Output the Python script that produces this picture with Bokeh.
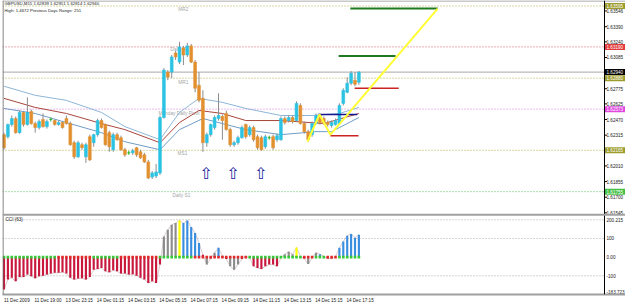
from bokeh.plotting import figure
from bokeh.models import Range1d, FixedTicker, Span
from bokeh.core.properties import value
from bokeh.embed import file_html
from bokeh.resources import INLINE

# ---------------- data ----------------
opens = [1.6232, 1.6230, 1.6242, 1.6248, 1.6234, 1.6254, 1.6242, 1.6255, 1.6243, 1.6239,
         1.6247, 1.6240, 1.6247, 1.6246, 1.6242, 1.6244, 1.6248, 1.6243, 1.6224, 1.6210,
         1.6222, 1.6210, 1.6230, 1.6224, 1.6232, 1.6246, 1.6242, 1.6234, 1.6217, 1.6232,
         1.6229, 1.6217, 1.6214, 1.6214, 1.6219, 1.6215, 1.6212, 1.6205, 1.6190, 1.6191,
         1.6194, 1.6249, 1.6294, 1.6294, 1.6313, 1.6304, 1.6318, 1.6311, 1.6320, 1.6304,
         1.6281, 1.6268, 1.6224, 1.6232, 1.6239, 1.6248, 1.6250, 1.6253, 1.6237, 1.6222,
         1.6224, 1.6229, 1.6242, 1.6232, 1.6239, 1.6230, 1.6229, 1.6220, 1.6229, 1.6230,
         1.6227, 1.6227, 1.6248, 1.6246, 1.6249, 1.6246, 1.6261, 1.6243, 1.6235, 1.6232,
         1.6243, 1.6251, 1.6248, 1.6244, 1.6241, 1.6242, 1.6243, 1.6263, 1.6274, 1.6283,
         1.6286, 1.62839]
highs = [1.6234, 1.6243, 1.6251, 1.6250, 1.6256, 1.6255, 1.6269, 1.6257, 1.6245, 1.6247,
         1.6253, 1.6247, 1.6249, 1.6247, 1.6246, 1.6245, 1.6251, 1.6245, 1.6226, 1.6226,
         1.6224, 1.6224, 1.6232, 1.6233, 1.6248, 1.6248, 1.6243, 1.6236, 1.6234, 1.6234,
         1.6231, 1.6219, 1.6216, 1.6218, 1.6220, 1.6217, 1.6214, 1.6207, 1.6196, 1.6203,
         1.6251, 1.6298, 1.6296, 1.6311, 1.6315, 1.6324, 1.6320, 1.6323, 1.6322, 1.6306,
         1.6294, 1.6276, 1.6234, 1.6243, 1.6251, 1.6273, 1.6252, 1.6256, 1.6239, 1.6226,
         1.6231, 1.6241, 1.6243, 1.6241, 1.6241, 1.6232, 1.6231, 1.6232, 1.6231, 1.6232,
         1.6233, 1.6250, 1.6250, 1.6251, 1.6251, 1.6265, 1.6263, 1.6245, 1.6237, 1.6245,
         1.6253, 1.6253, 1.6250, 1.6246, 1.6246, 1.6248, 1.6263, 1.6278, 1.6289, 1.6295,
         1.6294, 1.62951]
lows = [1.6217, 1.6228, 1.6240, 1.6233, 1.6233, 1.6240, 1.6241, 1.6242, 1.6234, 1.6237,
        1.6239, 1.6238, 1.6245, 1.6241, 1.6241, 1.6238, 1.6242, 1.6221, 1.6208, 1.6209,
        1.6217, 1.6204, 1.6206, 1.6220, 1.6230, 1.6238, 1.6221, 1.6215, 1.6215, 1.6226,
        1.6216, 1.6210, 1.6212, 1.6212, 1.6210, 1.6208, 1.6204, 1.6188, 1.6188, 1.6189,
        1.6192, 1.6248, 1.6286, 1.6288, 1.6306, 1.6302, 1.6301, 1.6309, 1.6303, 1.6274,
        1.6264, 1.6215, 1.6220, 1.6230, 1.6237, 1.6246, 1.6227, 1.6236, 1.6220, 1.6220,
        1.6222, 1.6228, 1.6228, 1.6230, 1.6225, 1.6217, 1.6216, 1.6218, 1.6227, 1.6217,
        1.6225, 1.6226, 1.6242, 1.6244, 1.6243, 1.6245, 1.6242, 1.6233, 1.6225, 1.6230,
        1.6242, 1.6242, 1.6242, 1.6240, 1.6239, 1.6241, 1.6242, 1.6261, 1.6273, 1.6281,
        1.6280, 1.62814]
closes = [1.6219, 1.6242, 1.6248, 1.6234, 1.6254, 1.6242, 1.6254, 1.6243, 1.6239, 1.6245,
          1.6240, 1.6245, 1.6247, 1.6242, 1.6244, 1.6239, 1.6243, 1.6222, 1.6210, 1.6224,
          1.6219, 1.6222, 1.6207, 1.6232, 1.6246, 1.6239, 1.6222, 1.6220, 1.6232, 1.6227,
          1.6217, 1.6212, 1.6214, 1.6216, 1.6212, 1.6209, 1.6205, 1.6189, 1.6194, 1.6195,
          1.6249, 1.6296, 1.6289, 1.6309, 1.6309, 1.6319, 1.6311, 1.6320, 1.6304, 1.6278,
          1.6266, 1.6224, 1.6232, 1.6242, 1.6249, 1.6251, 1.6246, 1.6237, 1.6222, 1.6224,
          1.6229, 1.6239, 1.6230, 1.6239, 1.6227, 1.6219, 1.6217, 1.6230, 1.6229, 1.6219,
          1.6231, 1.6248, 1.6244, 1.6249, 1.6245, 1.6263, 1.6243, 1.6235, 1.6227, 1.6243,
          1.6251, 1.6244, 1.6243, 1.6242, 1.6244, 1.6246, 1.6261, 1.6276, 1.6283, 1.6293,
          1.6282, 1.62940]

# moving-average envelope (read at selected bars)
ma_up_bars = [0, 8, 16, 25, 31, 40, 45, 50, 56, 62, 71, 79, 86, 91]
ma_up = [1.6280, 1.6271, 1.6266, 1.6254, 1.6240, 1.6227, 1.6254, 1.6268, 1.6264, 1.6258,
         1.6251, 1.6251, 1.6253, 1.6259]
ma_mid_bars = [0, 8, 16, 25, 31, 40, 45, 50, 56, 62, 71, 82, 91]
ma_mid = [1.6268, 1.6259, 1.6253, 1.6243, 1.6237, 1.6224, 1.6244, 1.6256, 1.6253, 1.6246,
          1.6246, 1.6243, 1.6253]
ma_low_bars = [0, 8, 16, 25, 31, 40, 45, 51, 56, 62, 71, 80, 84, 91]
ma_low = [1.6258, 1.6253, 1.6244, 1.6234, 1.6225, 1.6217, 1.6237, 1.6248, 1.6243, 1.6237,
          1.6232, 1.6235, 1.6235, 1.6249]

# CCI histogram
cci = [-173, -120, -111, -129, -106, -106, -93, -102, -113, -102,
       -99, -93, -88, -84, -84, -81, -88, -111, -120, -115,
       -113, -120, -106, -67, -63, -58, -76, -81, -70, -76,
       -88, -88, -93, -91, -99, -111, -120, -138, -129, -138,
       -40, 111, 147, 173, 182, 196, 182, 196, 161, 129,
       76, 13, -40, -8, 24, 50, 8, -10, -49, -67,
       -40, -10, 5, -5, -49, -58, -63, -49, -40, -40,
       -49, -5, 16, 29, 16, 52, 5, -8, -37, -5,
       24, 16, 5, -8, -8, 3, 50, 84, 115, 124,
       104, 120]
cci_kind = list("rrrrrrrrrrrrrrrrrrrrrrrrrrrrrrrrrrrrrrrrr"
                "ggggybbbbbrgrgbgrgggrggrrrrrrrggggygrgggbgrrgbbbbbb")
zero_kind = list("GGGGGGGGGGGGGG" "RRRRRRRRR" "GGGGGGG" "RRRRRRRRRR" "GGGGGGGGG"
                 "RRRRRRRRRRRRRR" "GGGGGGGGGGGGGG" "RRR" "GGG" "RRR" "GGGGGG")
cci_levels = [200, 100, -100]
cci_tick_values = [200, 100, 0, -100, -184]
cci_tick_labels = ["200.215", "100", "0.00", "-100", "-183.723"]

# horizontal levels
levels = [1.63595, 1.63190, 1.62880, 1.62573, 1.62165, 1.61755]
level_colors = ["#aeae48", "#d45a6a", "#aeae48", "#d67ad6", "#aeae48", "#58b858"]
badge_colors = ["#9c9c2c", "#e23a3a", "#9c9c2c", "#e048e0", "#9c9c2c", "#44c044"]
bid = 1.62940

price_tick_values = [1.63546, 1.63390, 1.63240, 1.63085, 1.62775, 1.62625,
                     1.62470, 1.62315, 1.62010, 1.61855, 1.61700, 1.61545]

time_ticks = [0, 8, 16, 24, 32, 40, 48, 56, 64, 72, 80, 88]
time_labels = ["11 Dec 2009", "11 Dec 19:00", "13 Dec 23:15", "14 Dec 01:15",
               "14 Dec 03:15", "14 Dec 05:15", "14 Dec 07:15", "14 Dec 09:15",
               "14 Dec 11:15", "14 Dec 13:15", "14 Dec 15:15", "14 Dec 17:15"]

# chart objects (bar index, price)
zig_bars = [77.8, 80.9, 83.7, 111.2]
zig_prices = [1.6225, 1.6252, 1.6232, 1.6357]
seg_x0 = [88.8, 85.8, 89.9, 80.6, 83.7]
seg_x1 = [111.2, 100.4, 101.2, 90.6, 90.9]
seg_price = [1.6357, 1.6310, 1.6278, 1.6252, 1.6231]
seg_colors = ["#1f7a1f", "#1f7a1f", "#cc2222", "#161690", "#cc2222"]
seg_widths = [2, 2, 1.5, 1.5, 1.5]

arrow_bars = [51.8, 58.7, 65.8]
arrow_prices = [1.6203, 1.6203, 1.6203]

note_text = ["MR2", "Daily R1", "MR1", "Monday Daily Pivot", "MS1", "Daily S1"]
note_bars = [44.7, 42.7, 44.7, 39.6, 44.5, 43.2]
note_prices = [1.6356, 1.6316, 1.6284, 1.6253, 1.6213, 1.6172]

title1 = "GBPUSD,M15  1.62839 1.62951 1.62814 1.62940"
title2 = "High: 1.4672    Previous Days Range: 251"

# ---------------- layout constants ----------------
BAR_PX = 3.9
X0 = -0.385
FRAME_W, FRAME_H = 623, 295
P_TOP, P_PER_PX = 1.6365, 0.0000988
CCI_ZERO_PX, CCI_PER_PX = 257.5, 100 / 18.75
SEP_PRICE = P_TOP - 215 * P_PER_PX
AXIS_X = X0 + 602 / BAR_PX          # right price axis at ~604 px
LABEL_X = AXIS_X + 2 / BAR_PX
BADGE_X = AXIS_X + 10.5 / BAR_PX
TICK_X1 = AXIS_X + 2.5 / BAR_PX
TIME_SHIFT = 3.3                    # labels start at their bar
FONT = "Liberation Sans"
FS = "4.6px"

BULL, BEAR, DOJI, WICK = "#2cc3e3", "#e2902f", "#22b022", "#8c8c8c"
CCI_COL = {"r": "#c8163c", "g": "#8c8c8c", "y": "#ffff00", "b": "#3a8ee0"}
ZERO_COL = {"G": "#36c836", "R": "#e02a2a"}

p = figure(width=625, height=305, output_backend="svg", toolbar_location=None,
           x_range=Range1d(X0, X0 + FRAME_W / BAR_PX),
           y_range=Range1d(P_TOP - FRAME_H * P_PER_PX, P_TOP),
           y_axis_location=None, min_border_left=2, min_border_right=0,
           min_border_top=0, min_border_bottom=10)
p.extra_y_ranges = {"cci": Range1d(-(FRAME_H - CCI_ZERO_PX) * CCI_PER_PX,
                                   CCI_ZERO_PX * CCI_PER_PX)}
p.xgrid.visible = False
p.ygrid.visible = False
p.background_fill_color = "white"
p.border_fill_color = "white"
p.outline_line_color = None

shifted = [round(t + TIME_SHIFT, 2) for t in time_ticks]
ax = p.xaxis[0]
ax.ticker = FixedTicker(ticks=shifted)
ax.major_label_overrides = {t: s for t, s in zip(shifted, time_labels)}
ax.major_label_text_font = FONT
ax.major_label_text_font_size = FS
ax.major_label_text_color = "#202020"
ax.major_label_standoff = 3
ax.major_tick_out = 0
ax.major_tick_in = 0
ax.minor_tick_out = 0
ax.minor_tick_in = 0
ax.axis_line_color = "#a0a0a0"
ax.axis_line_width = 2

# frame borders
p.add_layout(Span(location=X0 + 0.5 / BAR_PX, dimension="height", line_color="#606060",
                  line_width=1))
p.add_layout(Span(location=P_TOP - 0.5 * P_PER_PX, dimension="width", line_color="#909090",
                  line_width=1))
p.add_layout(Span(location=AXIS_X, dimension="height", line_color="black", line_width=1))
p.add_layout(Span(location=SEP_PRICE, dimension="width", line_color="#a0a0a0",
                  line_width=2))

# levels (stop at the price axis)
n = len(levels)
p.segment([X0] * n, levels, [AXIS_X] * n, levels, line_color=level_colors,
          line_dash="1 2", line_width=1)
p.segment([X0], [bid], [AXIS_X], [bid], line_color="#a8a8a8", line_width=1)
m = len(cci_levels)
p.segment([X0] * m, cci_levels, [AXIS_X] * m, cci_levels, y_range_name="cci",
          line_color="#a8a8a8", line_dash="1 2", line_width=1)

# notes
p.text(x=note_bars, y=note_prices, text=note_text, text_font=value(FONT),
       text_font_size="4.8px", text_color="#a6a6a6", text_baseline="middle")

# moving averages
p.line(ma_up_bars, ma_up, line_color="#8db6d8", line_width=1)
p.line(ma_mid_bars, ma_mid, line_color="#a8463c", line_width=1)
p.line(ma_low_bars, ma_low, line_color="#6f9cc6", line_width=1)

# candles
bars = list(range(len(opens)))
body_top = [max(o, c) for o, c in zip(opens, closes)]
body_bot = [min(o, c) for o, c in zip(opens, closes)]
body_col = [BULL if c > o else (BEAR if c < o else DOJI) for o, c in zip(opens, closes)]
wick_col = [DOJI if c == o else WICK for o, c in zip(opens, closes)]
p.segment(bars, highs, bars, lows, line_color=wick_col, line_width=1)
p.vbar(x=bars, top=body_top, bottom=body_bot, width=0.72, fill_color=body_col,
       line_color=body_col, line_width=0.6)

# drawn objects
p.segment(seg_x0, seg_price, seg_x1, seg_price, line_color=seg_colors, line_width=seg_widths)
p.line(zig_bars, zig_prices, line_color="#ffff33", line_width=2)
p.text(x=arrow_bars, y=arrow_prices, text=["\u21e7"] * len(arrow_bars),
       text_font=value("DejaVu Sans"), text_font_size="16px", text_color="#1c1c9c",
       text_align="center", text_baseline="top")

# CCI panel
p.line(bars, cci, y_range_name="cci", line_color="#c8b4b8", line_width=0.7)
p.vbar(x=bars, top=cci, bottom=0, width=0.55, y_range_name="cci",
       fill_color=[CCI_COL[k] for k in cci_kind], line_color=None)
p.scatter(bars, [0] * len(bars), y_range_name="cci", marker="square", size=2.6,
          fill_color=[ZERO_COL[k] for k in zero_kind], line_color=None)

# header texts
p.text(x=[X0 + 2 / BAR_PX] * 2, y=[P_TOP - 1 * P_PER_PX, P_TOP - 8 * P_PER_PX],
       text=[title1, title2], text_font=value(FONT), text_font_size="4.3px",
       text_color="#202020", text_baseline="top")
p.text(x=[X0 + 3 / BAR_PX], y=[200], y_range_name="cci", text=["CCI (63)"],
       text_font=value(FONT), text_font_size=FS, text_color="#202020",
       text_baseline="middle")

# right price scale
k = len(price_tick_values)
p.segment([AXIS_X] * k, price_tick_values, [TICK_X1] * k, price_tick_values,
          line_color="black", line_width=1)
p.text(x=[LABEL_X] * k, y=price_tick_values, text=[f"{v:.5f}" for v in price_tick_values],
       text_font=value(FONT), text_font_size=FS, text_color="#202020",
       text_baseline="middle")
badge_vals = levels + [bid]
badge_cols = badge_colors + ["black"]
p.rect(x=[BADGE_X] * len(badge_vals), y=badge_vals, width=20, height=6,
       width_units="screen", height_units="screen", fill_color=badge_cols, line_color=None)
p.text(x=[LABEL_X] * len(badge_vals), y=badge_vals, text=[f"{v:.5f}" for v in badge_vals],
       text_font=value(FONT), text_font_size=FS, text_color="white",
       text_baseline="middle")
c = len(cci_tick_values)
p.text(x=[LABEL_X] * c, y=cci_tick_values, y_range_name="cci", text=cci_tick_labels,
       text_font=value(FONT), text_font_size=FS, text_color="#202020",
       text_baseline="middle")

open("out.html", "w").write(file_html(p, INLINE))
